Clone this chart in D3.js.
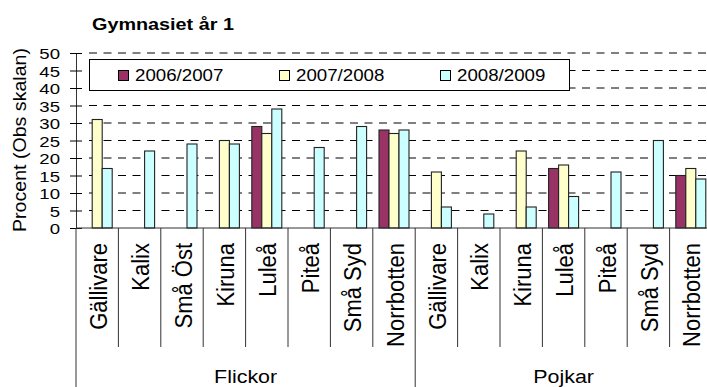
<!DOCTYPE html>
<html>
<head>
<meta charset="utf-8">
<script src="https://cdn.jsdelivr.net/npm/d3@7"></script>
<style>
  html, body { margin: 0; padding: 0; background: #fff; }
  svg { display: block; font-family: "Liberation Sans", Arial, sans-serif; }
</style>
</head>
<body>
<svg id="chart" width="707" height="387"></svg>
<script>
const title = "Gymnasiet år 1";
const yLabel = "Procent (Obs skalan)";
const yTicks = [0, 5, 10, 15, 20, 25, 30, 35, 40, 45, 50];
const groups = ["Flickor", "Pojkar"];
const flickorTowns = ["Gällivare", "Kalix", "Små Öst", "Kiruna", "Luleå", "Piteå", "Små Syd", "Norrbotten"];
const pojkarTowns = ["Gällivare", "Kalix", "Kiruna", "Luleå", "Piteå", "Små Syd", "Norrbotten"];
const series = ["2006/2007", "2007/2008", "2008/2009"];
const seriesColors = ["#993366", "#FFFFCC", "#CCFFFF"];
const flickor0607 = [null, null, null, null, 29, null, null, 28];
const flickor0708 = [31, null, null, 25, 27, null, null, 27];
const flickor0809 = [17, 22, 24, 24, 34, 23, 29, 28];
const pojkar0607 = [null, null, null, 17, null, null, 15];
const pojkar0708 = [16, null, 22, 18, null, null, 17];
const pojkar0809 = [6, 4, 6, 9, 16, 25, 14];

const rows = [];
flickorTowns.forEach((t, i) => rows.push({group: "Flickor", town: t, key: "Flickor|" + t,
  vals: [flickor0607[i], flickor0708[i], flickor0809[i]]}));
pojkarTowns.forEach((t, i) => rows.push({group: "Pojkar", town: t, key: "Pojkar|" + t,
  vals: [pojkar0607[i], pojkar0708[i], pojkar0809[i]]}));

const svg = d3.select("#chart");
const plotLeft = 76, plotRight = 712, plotTop = 53, plotBase = 228;

const x = d3.scaleBand().domain(rows.map(r => r.key)).range([plotLeft, plotRight]).paddingInner(0).paddingOuter(0);
const xs = d3.scaleBand().domain(series).range([0, x.bandwidth()]).paddingInner(0).paddingOuter(0.62);
const y = d3.scaleLinear().domain([0, 50]).range([plotBase, plotTop]);
const color = d3.scaleOrdinal().domain(series).range(seriesColors);

// title
svg.append("text")
  .attr("transform", "translate(92,30) scale(1.2,1)")
  .attr("font-weight", "bold").attr("font-size", 16.5).attr("fill", "#000")
  .text(title);

// gridlines
svg.append("g").selectAll("line").data(yTicks.filter(d => d > 0)).join("line")
  .attr("x1", 89).attr("x2", 707)
  .attr("y1", d => y(d)).attr("y2", d => y(d))
  .attr("stroke", "#000").attr("stroke-width", 1)
  .attr("stroke-dasharray", "8,6.5");

// y axis
const yAxis = svg.append("g").attr("transform", `translate(${plotLeft},0)`)
  .call(d3.axisLeft(y).tickValues(yTicks).tickSizeInner(6).tickSizeOuter(0));
yAxis.select(".domain").attr("stroke", "#333");
yAxis.selectAll(".tick line").attr("x1", -6).attr("x2", 6).attr("stroke", "#000");
yAxis.selectAll(".tick text")
  .attr("x", null).attr("dy", "0.36em")
  .attr("transform", "translate(-16,0) scale(1.2,1)")
  .attr("font-size", 15.5).attr("fill", "#000")
  .attr("font-family", "Liberation Sans, Arial, sans-serif");

// y label
svg.append("text")
  .attr("transform", "translate(26,140) rotate(-90) scale(1.12,1)")
  .attr("text-anchor", "middle").attr("font-size", 17.5).attr("fill", "#000")
  .text(yLabel);

// legend
const lg = svg.append("g");
lg.append("rect").attr("x", 89.5).attr("y", 59.5).attr("width", 480).attr("height", 31)
  .attr("fill", "#fff").attr("stroke", "#000").attr("stroke-width", 1);
const legX = [118, 279, 440];
series.forEach((s, i) => {
  lg.append("rect").attr("x", legX[i] + 0.5).attr("y", 70.5).attr("width", 10).attr("height", 10)
    .attr("fill", color(s)).attr("stroke", "#000");
  lg.append("text").attr("transform", `translate(${legX[i] + 17},81) scale(1.1,1)`)
    .attr("font-size", 17).attr("fill", "#000").text(s);
});

// bars
const cat = svg.append("g").selectAll("g").data(rows).join("g")
  .attr("transform", d => `translate(${x(d.key)},0)`);
cat.selectAll("rect")
  .data(d => d.vals.map((v, i) => ({s: series[i], v})).filter(e => e.v != null))
  .join("rect")
  .attr("x", e => xs(e.s)).attr("width", xs.bandwidth())
  .attr("y", e => y(e.v)).attr("height", e => y(0) - y(e.v))
  .attr("fill", e => color(e.s)).attr("stroke", "#222").attr("stroke-width", 1.1);

// x axis line
svg.append("line").attr("x1", plotLeft).attr("x2", 707).attr("y1", plotBase).attr("y2", plotBase)
  .attr("stroke", "#333").attr("stroke-width", 1);

// category separators
const bounds = rows.map(r => x(r.key)).concat([plotRight]);
const groupStarts = new Set([0, flickorTowns.length, rows.length]);
svg.append("g").selectAll("line").data(bounds.map((b, i) => ({b, i}))).join("line")
  .attr("x1", d => d.b).attr("x2", d => d.b)
  .attr("y1", plotBase).attr("y2", d => groupStarts.has(d.i) ? 387 : 347)
  .attr("stroke", "#333").attr("stroke-width", 1);

// category labels
svg.append("g").selectAll("text").data(rows).join("text")
  .attr("transform", d => `translate(${x(d.key) + x.bandwidth() / 2 + 9.5},243) rotate(-90) scale(1,1.12)`)
  .attr("text-anchor", "end").attr("font-size", 22).attr("fill", "#000")
  .text(d => d.town);

// group labels
groups.forEach(g => {
  const ks = rows.filter(r => r.group === g).map(r => r.key);
  const cx = (x(ks[0]) + x(ks[ks.length - 1]) + x.bandwidth()) / 2;
  svg.append("text").attr("transform", `translate(${cx},383) scale(1.19,1)`)
    .attr("text-anchor", "middle").attr("font-size", 18).attr("fill", "#000").text(g);
});
</script>
</body>
</html>
